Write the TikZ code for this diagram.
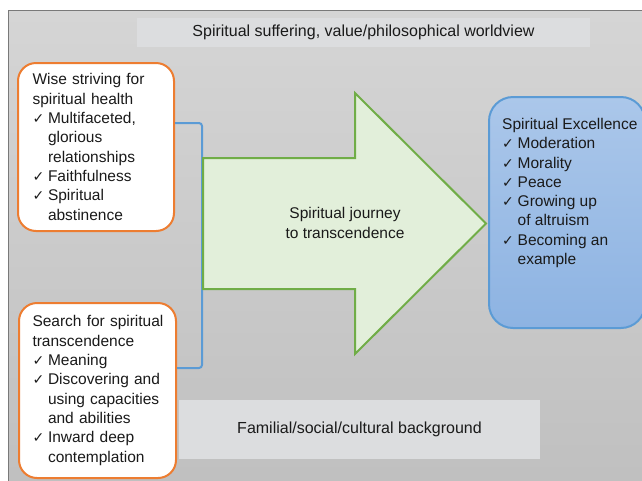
\documentclass[tikz,border=0pt]{standalone}
\usepackage{fontspec}
\setmainfont{Liberation Sans}
\newfontfamily\symfont{DejaVu Sans}
\newcommand{\ck}{\makebox[15.5pt][l]{\symfont\fontsize{14}{14}\selectfont ✓}}
\newcommand{\ind}{\hspace*{15.5pt}}
\definecolor{panelTop}{HTML}{D5D5D5}
\definecolor{panelBot}{HTML}{BFBFBF}
\definecolor{labelFill}{HTML}{DCDDDF}
\definecolor{orangeLine}{HTML}{ED7D31}
\definecolor{blueLine}{HTML}{5B9BD5}
\definecolor{blueTop}{HTML}{ABC7EA}
\definecolor{blueBot}{HTML}{8DB3E2}
\definecolor{greenLine}{HTML}{70AD47}
\definecolor{greenFill}{HTML}{E2EFDA}
\definecolor{ink}{HTML}{1A1A1A}
\begin{document}
\begin{tikzpicture}[x=1pt,y=-1pt,
  txt/.style={font=\fontsize{15.5}{19.3}\selectfont, text=ink},
  labelbox/.style={font=\fontsize{16}{19.3}\selectfont, text=ink, fill=labelFill, draw=none, inner sep=0pt},
  sourcebox/.style={txt, draw=orangeLine, line width=2pt, fill=white,
    rounded corners=18pt, align=left, minimum height=168pt, inner ysep=0pt},
  goalbox/.style={draw=blueLine, line width=2pt, top color=blueTop,
    bottom color=blueBot, rounded corners=24pt, inner sep=0pt},
  bracket/.style={draw=blueLine, line width=2pt, rounded corners=3pt},
  journey/.style={draw=greenLine, line width=2pt, fill=greenFill, line join=miter}]
\useasboundingbox (0,0) rectangle (642,480);

% background panel
\draw[draw=gray!95!black, line width=1pt, top color=panelTop, bottom color=panelBot]
  (8,10) rectangle (660,500);

% context labels
\node[labelbox, minimum width=453pt, minimum height=29pt] (world) at (363.5,32.5)
  {Spiritual suffering, value/philosophical worldview};
\node[labelbox, minimum width=361pt, minimum height=59pt] (culture) at (359.5,429.5)
  {Familial/social/cultural background};

% the two sources of the journey
\node[sourcebox, anchor=north west, text width=127pt, inner xsep=14.5pt] (wise) at (17,62)
  {Wise striving for\\
   spiritual health\\
   \ck Multifaceted,\\
   \ind glorious\\
   \ind relationships\\
   \ck Faithfulness\\
   \ck Spiritual\\
   \ind abstinence};
\node[sourcebox, anchor=north west, text width=130pt, inner xsep=13.5pt,
      minimum height=175pt] (search) at (18,302)
  {\mbox{Search for spiritual}\\
   transcendence\\
   \ck Meaning\\
   \mbox{\ck Discovering and}\\
   \mbox{\ind using capacities}\\
   \ind and abilities\\
   \ck Inward deep\\
   \ind contemplation};

% bracket joining the sources
\coordinate (btop) at (202,123);
\coordinate (bbot) at (202,368);
\draw[bracket] (wise.east |- btop) -- (btop) -- (bbot) -- (search.east |- bbot);

% the journey arrow
\draw[journey] (203,158) -- (355,158) -- (355,93) -- (486,223.5)
  -- (355,354) -- (355,289) -- (203,289) -- cycle;
\node[txt, align=center] (journeytext) at (345,223)
  {Spiritual journey\\to transcendence};

% the outcome
\node[goalbox, anchor=north west, minimum width=156pt, minimum height=231pt] (excel) at (488,96) {};
\node[txt, align=left, anchor=north west, inner sep=0pt] (exceltext) at (502,118)
  {\mbox{Spiritual Excellence}\\
   \ck Moderation\\
   \ck Morality\\
   \ck Peace\\
   \ck Growing up\\
   \ind of altruism\\
   \ck Becoming an\\
   \ind example};
\end{tikzpicture}
\end{document}
